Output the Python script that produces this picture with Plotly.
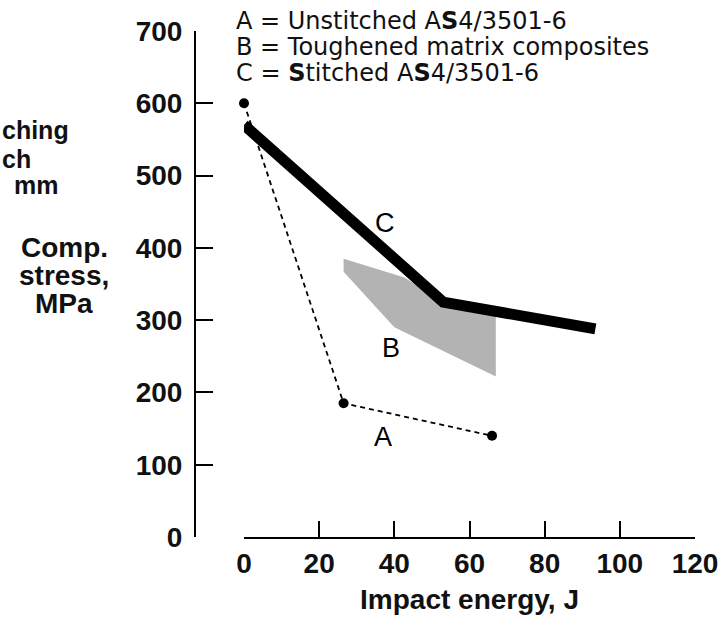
import plotly.graph_objects as go

# ---- data ----
a_energy = [0, 26.5, 66]
a_stress = [600, 185, 140]

c_energy = [0, 53, 93.5]
c_stress = [570, 325, 288]

b_energy = [26.5, 42.7, 53, 67, 67, 40, 26.5]
b_stress = [385, 359, 325, 312, 222, 290, 367]

x_ticks = [0, 20, 40, 60, 80, 100, 120]
y_ticks = [0, 100, 200, 300, 400, 500, 600, 700]

legend_lines = [
    "A = Unstitched A<b>S</b>4/3501-6",
    "B = Toughened matrix composites",
    "C = <b>S</b>titched A<b>S</b>4/3501-6",
]
curve_labels = ["A", "B", "C"]
label_energy = [37, 39, 37.4]
label_stress = [138, 261, 434]

W, H = 719, 620
FONT = "Liberation Sans, Arial, Helvetica, sans-serif"
WIDE = "DejaVu Sans, Verdana, sans-serif"


def px(x):
    return x / W


def py(y):
    return 1 - y / H


fig = go.Figure()

fig.add_trace(go.Scatter(
    x=b_energy, y=b_stress, mode="lines", fill="toself",
    fillcolor="#b3b3b3", line=dict(width=0, color="#b3b3b3"),
    hoverinfo="skip", showlegend=False))

fig.add_trace(go.Scatter(
    x=a_energy, y=a_stress, mode="lines+markers",
    line=dict(color="black", width=1.8, dash="5px,4px"),
    marker=dict(color="black", size=10),
    cliponaxis=False, showlegend=False))

fig.add_trace(go.Scatter(
    x=c_energy, y=c_stress, mode="lines",
    line=dict(color="black", width=11),
    cliponaxis=False, showlegend=False))

annotations = []
for t, xe, ys in zip(curve_labels, label_energy, label_stress):
    annotations.append(dict(x=xe, y=ys, xref="x", yref="y", text=t,
                            showarrow=False, font=dict(family=FONT, size=27, color="black")))

for i, line in enumerate(legend_lines):
    annotations.append(dict(x=px(234), y=py(21 + 26 * i), xref="paper", yref="paper",
                            xanchor="left", yanchor="middle", text=line, showarrow=False,
                            font=dict(family=WIDE, size=24, color="#111111")))

for t, yy in zip(["Comp.", "stress,", "MPa"], [247, 275, 303]):
    annotations.append(dict(x=px(64), y=py(yy), xref="paper", yref="paper",
                            xanchor="center", yanchor="middle", text=t, showarrow=False,
                            font=dict(family=FONT, size=28, color="#111111", weight="bold")))

for t, xx, yy in zip(["ching", "ch", "mm"], [0, 0, 12], [130, 159, 185]):
    annotations.append(dict(x=px(xx), y=py(yy), xref="paper", yref="paper",
                            xanchor="left", yanchor="middle", text=t, showarrow=False,
                            font=dict(family=FONT, size=25, color="#111111", weight="bold")))

fig.update_layout(
    width=W, height=H,
    margin=dict(l=0, r=0, t=0, b=0),
    paper_bgcolor="white", plot_bgcolor="white",
    showlegend=False,
    annotations=annotations,
    xaxis=dict(
        domain=[px(244), px(695)], range=[0, 120],
        tickvals=x_ticks, ticks="inside", ticklen=16, tickwidth=2, tickcolor="black",
        showline=True, linewidth=2, linecolor="black",
        showgrid=False, zeroline=False, automargin=False,
        tickfont=dict(family=FONT, size=28, color="#111111", weight="bold"),
        ticklabelstandoff=0,
        title=dict(text="Impact energy, J", standoff=12,
                   font=dict(family=FONT, size=28, color="#111111", weight="bold")),
    ),
    yaxis=dict(
        domain=[py(537), py(31)], range=[0, 700],
        anchor="free", position=px(195),
        tickvals=y_ticks, ticks="inside", ticklen=17, tickwidth=2, tickcolor="black",
        showline=True, linewidth=2, linecolor="black",
        showgrid=False, zeroline=False, automargin=False,
        tickfont=dict(family=FONT, size=28, color="#111111", weight="bold"),
        ticklabelstandoff=6,
    ),
)

fig.write_html("out.html",
               config={"displayModeBar": False},
               post_script="document.body.style.margin='0';document.body.style.overflow='hidden';")
